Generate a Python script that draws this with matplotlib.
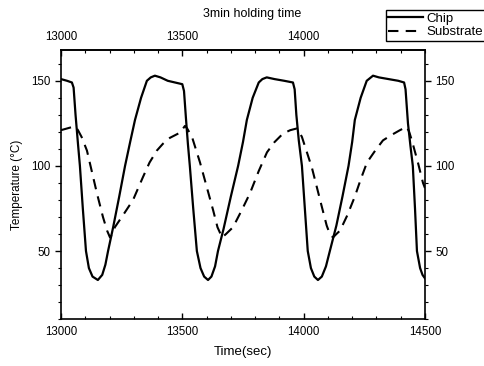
import matplotlib
matplotlib.use('Agg')
import matplotlib.pyplot as plt
from matplotlib.ticker import MultipleLocator, FixedLocator

plt.rcParams['font.family'] = ['Liberation Sans', 'DejaVu Sans']

# chip temperature (sec, degC)
chip_t = [13000, 13025, 13045, 13052, 13060, 13070, 13078, 13090, 13103, 13115,
          13130, 13152, 13170, 13183, 13194, 13215, 13240, 13264, 13285, 13305,
          13330, 13354, 13370, 13387, 13410, 13440, 13470, 13500, 13507, 13515,
          13523, 13531, 13545, 13560, 13575, 13590, 13606, 13620, 13635, 13647,
          13670, 13700, 13730, 13750, 13766, 13790, 13815, 13830, 13848, 13880,
          13920, 13956, 13963, 13970, 13980, 13993, 14005, 14017, 14030, 14044,
          14059, 14075, 14092, 14108, 14135, 14160, 14185, 14200, 14211, 14235,
          14260, 14286, 14310, 14350, 14390, 14414, 14420, 14430, 14440, 14450,
          14459, 14467, 14480, 14490, 14500]
chip_v = [151, 150, 149, 146, 130, 113, 100, 75, 50, 40,
          35, 33, 36, 42, 50, 64, 82, 100, 114, 127,
          140, 150, 152, 153, 152, 150, 149, 148, 144, 128,
          113, 100, 75, 50, 40, 35, 33, 35, 41, 50,
          63, 82, 100, 114, 127, 140, 149, 151, 152, 151,
          150, 149, 145, 130, 115, 100, 75, 50, 40, 35,
          33, 35, 41, 50, 65, 82, 100, 114, 127, 140,
          150, 153, 152, 151, 150, 149, 145, 125, 112, 100,
          75, 50, 40, 36, 34]

# substrate temperature (sec, degC)
sub_t = [13000, 13025, 13050, 13060, 13070, 13085, 13107, 13130, 13148, 13173,
         13190, 13202, 13212, 13222, 13260, 13297, 13338, 13365, 13395, 13420,
         13449, 13490, 13511, 13520, 13540, 13573, 13600, 13627, 13645, 13664,
         13680, 13709, 13745, 13779, 13815, 13849, 13880, 13915, 13945, 13972,
         13982, 13993, 14034, 14075, 14095, 14108, 14121, 14135, 14150, 14180,
         14211, 14235, 14261, 14295, 14327, 14360, 14397, 14425, 14435, 14446,
         14471, 14492, 14500]
sub_v = [121, 122, 123, 123, 121, 117, 109, 95, 84, 70,
         62, 58, 60, 64, 72, 80, 93.5, 102, 109, 113,
         116.5, 119.5, 123.5, 122, 117, 102, 88, 74, 64, 58,
         60, 64, 74, 84, 97, 108, 114, 119, 121, 122,
         120, 117, 99, 76, 65, 60, 58, 60, 62, 71,
         82, 92, 102, 109, 115, 118, 121, 123, 120, 115,
         102, 90, 87]

# top axis labels (14500 is hidden behind the legend in the original)
top_ticks = [13000, 13500, 14000]


def main():
    fig = plt.figure(figsize=(4.84, 3.66), dpi=100)
    ax = fig.add_axes([0.126, 0.128, 0.752, 0.735])

    ax.plot(chip_t, chip_v, color='black', lw=1.6, label='Chip')
    ax.plot(sub_t, sub_v, color='black', lw=1.5, dashes=(5, 3.5), label='Substrate')

    ax.set_xlim(13000, 14500)
    ax.set_ylim(10, 168)
    ax.xaxis.set_major_locator(MultipleLocator(500))
    ax.xaxis.set_minor_locator(MultipleLocator(100))
    ax.yaxis.set_major_locator(MultipleLocator(50))
    ax.yaxis.set_minor_locator(MultipleLocator(10))

    ax.tick_params(axis='x', which='both', direction='in', labelsize=8.3, pad=5)
    ax.tick_params(axis='y', which='both', direction='out', right=True, labelright=True,
                   labelsize=8.3)
    ax.tick_params(which='major', length=4, width=1)
    ax.tick_params(which='minor', length=2.2, width=0.8)
    for s in ax.spines.values():
        s.set_linewidth(1.2)

    top = ax.secondary_xaxis('top')
    top.xaxis.set_major_locator(FixedLocator(top_ticks))
    top.xaxis.set_minor_locator(MultipleLocator(100))
    top.tick_params(which='both', direction='in', labelsize=8.3, pad=5)
    top.tick_params(which='major', length=4, width=1)
    top.tick_params(which='minor', length=2.2, width=0.8)
    top.spines['top'].set_linewidth(1.2)

    ax.set_xlabel('Time(sec)', fontsize=9.5, labelpad=6)
    ax.set_ylabel('Temperature (\u00b0C)', fontsize=8.5, labelpad=6)
    fig.text(0.52, 0.963, '3min holding time', ha='center', va='center', fontsize=9)

    leg = fig.legend(loc='upper left', bbox_to_anchor=(0.797, 0.973), fontsize=9.5,
                     frameon=True, fancybox=False, edgecolor='black', framealpha=1,
                     handlelength=2.6, handletextpad=0.3, borderpad=0.2,
                     labelspacing=0.1, borderaxespad=0)
    leg.get_frame().set_linewidth(1)

    fig.savefig('out.png', dpi=100)


if __name__ == '__main__':
    main()
